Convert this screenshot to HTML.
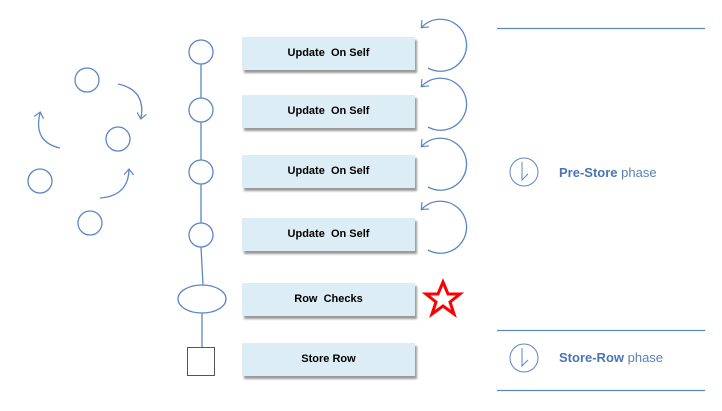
<!DOCTYPE html>
<html><head><style>
body{margin:0;background:#fff;width:722px;height:411px;overflow:hidden;position:relative;font-family:"Liberation Sans",sans-serif}
.b{position:absolute;left:242px;width:173px;height:33px;background:#ddedf6;box-shadow:2px 3px 2px #999;font-size:11px;font-weight:bold;text-align:center;line-height:33px;color:#000}
.t{position:absolute;left:559px;font-size:13px;color:#5a7fb8}
.t b{color:#4a75b5}
</style></head><body>
<svg width="722" height="411" style="position:absolute;left:0;top:0">
<defs><marker id="a" markerWidth="10" markerHeight="10" refX="5" refY="5" orient="auto" markerUnits="userSpaceOnUse"><path d="M0,0 L6,5 L0,10" fill="none" stroke="#5b87c5" stroke-width="1.2"/></marker></defs>
<g fill="none" stroke="#5b87c5" stroke-width="1.3">
<line x1="201" y1="64" x2="201" y2="98"/><line x1="201" y1="122" x2="201" y2="160"/><line x1="201" y1="184" x2="201" y2="223"/><line x1="201" y1="247" x2="203" y2="285"/><line x1="202" y1="313" x2="202" y2="347"/>
<circle cx="201" cy="52" r="12"/><circle cx="201" cy="110" r="12"/><circle cx="201" cy="172" r="12"/><circle cx="201" cy="235" r="12"/>
<ellipse cx="202" cy="299" rx="24" ry="14"/>
</g>
<rect x="187.5" y="347.5" width="27" height="28" fill="none" stroke="#555" stroke-width="1"/>
<g fill="none" stroke="#5b87c5" stroke-width="1.3">
<circle cx="87" cy="80" r="12"/><circle cx="118" cy="139" r="12"/><circle cx="40" cy="181" r="12"/><circle cx="90" cy="223" r="12"/>
<path d="M118,84 Q146,90 141,118" marker-end="url(#a)"/>
<path d="M60,148 Q33,142 40,113" marker-end="url(#a)"/>
<path d="M100,198 Q128,196 129,170" marker-end="url(#a)"/>
<path d="M428,68 A26,26 0 1 0 422,27" marker-end="url(#a)"/>
<path d="M428,127 A26,26 0 1 0 422,86" marker-end="url(#a)"/>
<path d="M428,187 A26,26 0 1 0 422,146" marker-end="url(#a)"/>
<path d="M428,250 A26,26 0 1 0 422,209" marker-end="url(#a)"/>
<line x1="497" y1="28.5" x2="705" y2="28.5"/><line x1="497" y1="330.5" x2="705" y2="330.5"/><line x1="497" y1="390.5" x2="705" y2="390.5"/>
<circle cx="524" cy="172" r="14" stroke-width="1"/><path d="M522,162 L522,180 L528,174" stroke-width="1"/>
<circle cx="524" cy="358" r="14" stroke-width="1"/><path d="M522,348 L522,366 L528,360" stroke-width="1"/>
</g>
<polygon points="443,282 448,294 460,294 450,302 454,314 443,306 432,314 436,302 426,294 438,294" fill="none" stroke="#f00" stroke-width="3"/>
</svg>
<div class="b" style="top:37px">Update&nbsp; On Self</div>
<div class="b" style="top:95px">Update&nbsp; On Self</div>
<div class="b" style="top:155px">Update&nbsp; On Self</div>
<div class="b" style="top:218px">Update&nbsp; On Self</div>
<div class="b" style="top:283px">Row&nbsp; Checks</div>
<div class="b" style="top:343px">Store Row</div>
<div class="t" style="top:165px"><b>Pre-Store</b> phase</div>
<div class="t" style="top:350px"><b>Store-Row</b> phase</div>
</body></html>
